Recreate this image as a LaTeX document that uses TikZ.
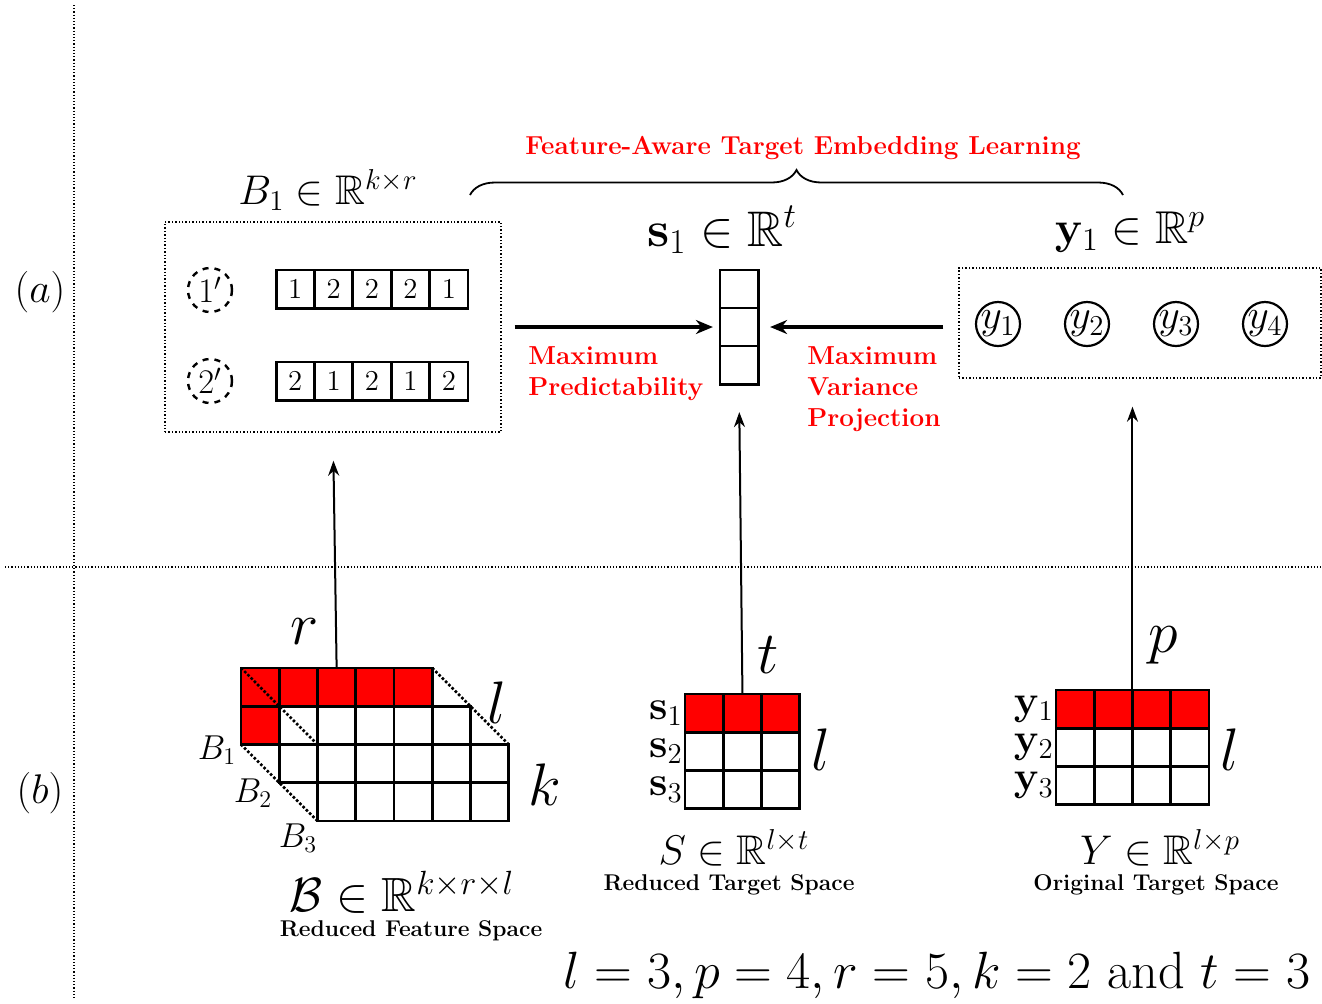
\RequirePackage{fix-cm}
\documentclass[tikz,border=0pt]{standalone}
\usepackage{amsmath,amssymb,amsfonts,bm}
\usetikzlibrary{positioning,arrows.meta,calc,decorations.pathreplacing}

\begin{document}
\begin{tikzpicture}[x=0.5pt, y=-0.5pt,
    cell/.style={draw, line width=1.4pt, minimum size=19.1pt, inner sep=0pt, outer sep=0pt, fill=white, font=\Large},
    redcell/.style={cell, fill=red},
    frame/.style={draw, densely dotted, line width=0.7pt, inner sep=0pt},
    sep/.style={densely dotted, line width=0.6pt},
    dashcirc/.style={circle, draw, dashed, line width=1.2pt, minimum size=22pt, inner sep=0pt, font=\LARGE},
    ycirc/.style={circle, draw, line width=1.1pt, minimum size=22pt, inner sep=0pt, font=\huge},
    redlbl/.style={text=red, font=\fontsize{13}{15.5}\selectfont\bfseries, align=left, inner sep=0pt},
    dimlbl/.style={font=\fontsize{30}{35}\selectfont},
    caption/.style={font=\fontsize{11.4}{13}\selectfont\bfseries},
    arrow/.style={-{Stealth[length=7.5pt, width=5.5pt]}, line width=1pt, shorten >=14pt},
    bigarrow/.style={-{Stealth[length=8.5pt, width=7pt]}, line width=2.2pt},
]
\useasboundingbox (0,0) rectangle (1322,1003);

% panel separators
\draw[sep] (74,5) -- (74,1000);
\draw[sep] (5,567) -- (1322,567);
\node (lbla) at (40,292) {\huge $(a)$};
\node (lblb) at (40,793) {\huge $(b)$};

% (a) feature-aware target embedding
\node[frame, minimum width=168pt, minimum height=105pt] (bbox) at (333,327) {};
\node (btitle) at (328,190) {\huge $B_1 \in \mathbb{R}^{k\times r}$};
\node[dashcirc] (c1) at (210,290) {$1'$};
\node[dashcirc] (c2) at (210,381) {$2'$};
\foreach \v [count=\i] in {1,2,2,2,1}
    \node[cell] (ra\i) at ({276+38.4*(\i-0.5)},289) {$\v$};
\foreach \v [count=\i] in {2,1,2,1,2}
    \node[cell] (rb\i) at ({276+38.4*(\i-0.5)},381) {$\v$};

\node (stitle) at (722,230) {\fontsize{25}{30}\selectfont $\mathbf{s}_1 \in \mathbb{R}^t$};
\foreach \i in {1,2,3}
    \node[cell] (sv\i) at (739,{270+38*(\i-0.5)}) {};

\node[frame, minimum width=181pt, minimum height=55pt] (ybox) at (1140,323) {};
\node (ytitle) at (1130,232) {\fontsize{23}{27}\selectfont $\mathbf{y}_1 \in \mathbb{R}^p$};
\foreach \i/\x in {1/998,2/1087,3/1176,4/1265}
    \node[ycirc] (yn\i) at (\x,324) {$y_\i$};

\draw[bigarrow, shorten <=6.5pt, shorten >=3.5pt] (bbox.east) -- (sv2.west);
\draw[bigarrow, shorten <=7.5pt, shorten >=6pt] (ybox.west |- sv2.east) -- (sv2.east);
\node[redlbl, anchor=north west] (mp) at (528,346) {Maximum\\Predictability};
\node[redlbl, anchor=north west] (mvp) at (807,346) {Maximum\\Variance\\Projection};

\coordinate (brl) at (470,195);
\coordinate (brr) at (1123,195);
\draw[decorate, decoration={brace, amplitude=12.5pt}, line width=0.9pt] (brl) -- (brr);
\node[redlbl] (fatel) at (803,148) {Feature-Aware Target Embedding Learning};

% (b) tensor B, matrices S and Y
\foreach \l/\ox/\oy in {3/317.5/744.5, 2/279.25/706.25}
    \foreach \i in {1,...,5}
        \foreach \j in {1,2}
            \node[cell] (t\l-\j-\i) at ({\ox+38.25*(\i-0.5)},{\oy+38.25*(\j-0.5)}) {};
\foreach \i in {1,...,5}
    \node[redcell] (t1-1-\i) at ({241+38.25*(\i-0.5)},687) {};
\node[redcell] (t1-2-1) at (260,725.25) {};
\foreach \i in {2,...,5}
    \node[cell] (t1-2-\i) at ({241+38.25*(\i-0.5)},725.25) {};
\draw[densely dotted, line width=1.3pt] (t1-1-1.north west) -- (t3-1-1.north west);
\draw[densely dotted, line width=1.3pt] (t1-2-1.south west) -- (t3-2-1.south west);
\draw[densely dotted, line width=1.3pt] (t1-1-5.north east) -- (t3-1-5.north east);
\node (lb1) at (217,750) {\LARGE $B_1$};
\node (lb2) at (253,793) {\LARGE $B_2$};
\node (lb3) at (298,838) {\LARGE $B_3$};
\node[dimlbl] (dr) at (305,632) {$r$};
\node[dimlbl] (dl) at (497,703) {$l$};
\node[dimlbl] (dk) at (545,785) {$k$};
\node (btensor) at (402,892) {\fontsize{24}{28}\selectfont $\mathcal{B} \in \mathbb{R}^{k\times r\times l}$};
\node[caption] (rfs) at (411,931) {Reduced Feature Space};

\foreach \j in {1,2,3}
    \foreach \i in {1,2,3}
        \node[cell] (s\j-\i) at ({685+38.3*(\i-0.5)},{694+38.3*(\j-0.5)}) {};
\foreach \i in {1,2,3}
    \node[redcell] (s1-\i) at ({685+38.3*(\i-0.5)},713.15) {};
\foreach \j in {1,2,3}
    \node[anchor=east, inner sep=1pt] (sl\j) at (s\j-1.west) {\huge $\mathbf{s}_\j$};
\node[dimlbl] (dt) at (768,655) {$t$};
\node[dimlbl] (dls) at (821,750) {$l$};
\node (smat) at (734,848) {\huge $S \in \mathbb{R}^{l\times t}$};
\node[caption] (rts) at (729,885) {Reduced Target Space};

\foreach \j in {1,2,3}
    \foreach \i in {1,...,4}
        \node[cell] (y\j-\i) at ({1056+38.25*(\i-0.5)},{690+38.25*(\j-0.5)}) {};
\foreach \i in {1,...,4}
    \node[redcell] (y1-\i) at ({1056+38.25*(\i-0.5)},709.1) {};
\foreach \j in {1,2,3}
    \node[anchor=east, inner sep=1pt] (yl\j) at (y\j-1.west) {\huge $\mathbf{y}_\j$};
\node[dimlbl] (dp) at (1163,645) {$p$};
\node[dimlbl] (dly) at (1230,750) {$l$};
\node (ymat) at (1160,848) {\huge $Y \in \mathbb{R}^{l\times p}$};
\node[caption] (ots) at (1156,885) {Original Target Space};

\draw[arrow] (t1-1-3.north) -- (bbox.south);
\draw[arrow] (s1-2.north) -- (sv3.south);
\draw[arrow] (y1-2.north east) -- (ybox.south -| y1-2.north east);

\node (params) at (937,975) {\fontsize{26.2}{31}\selectfont $l=3, p=4, r=5, k=2 \text{ and } t=3$};
\end{tikzpicture}
\end{document}
